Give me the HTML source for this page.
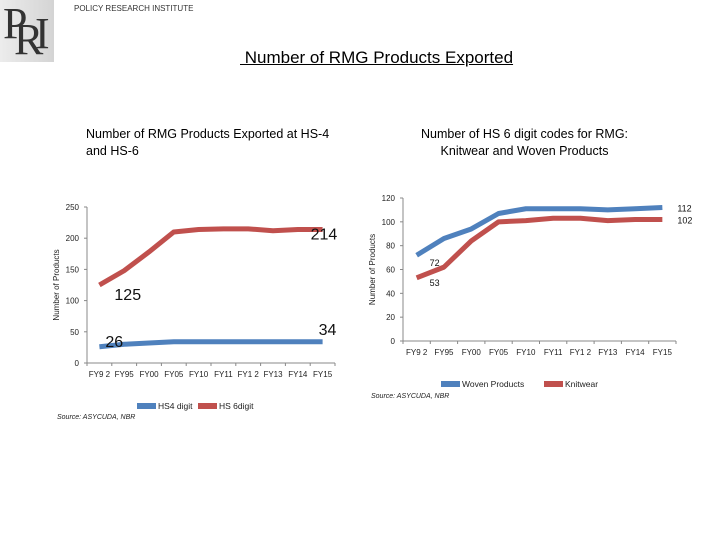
<!DOCTYPE html>
<html><head><meta charset="utf-8"><style>
body{margin:0;width:720px;height:540px;background:#fff;position:relative;overflow:hidden;font-family:"Liberation Sans",sans-serif;}
.a{position:absolute;white-space:nowrap;}
</style></head><body>
<div class="a" style="left:0;top:0;width:54px;height:62px;background:linear-gradient(90deg,#ececec,#d4d4d4);font-family:'Liberation Serif',serif;color:#333;">
<span style="position:absolute;left:3px;top:-2px;font-size:44px;">P</span>
<span style="position:absolute;left:14px;top:14px;font-size:44px;">R</span>
<span style="position:absolute;left:35px;top:8px;font-size:44px;">I</span>
</div>
<div class="a" style="left:74px;top:4px;font-size:8px;color:#333;">POLICY RESEARCH INSTITUTE</div>
<div class="a" style="left:240px;top:48px;font-size:17px;text-decoration:underline;color:#000;">&nbsp;Number of RMG Products Exported</div>
<div class="a" style="left:86px;top:126px;font-size:12.5px;line-height:17px;">Number of RMG Products Exported at HS-4<br>and HS-6</div>
<div class="a" style="left:421px;top:126px;font-size:12.5px;line-height:17px;text-align:center;">Number of HS 6 digit codes for RMG:<br>Knitwear and Woven Products</div>
<svg width="720" height="540" style="position:absolute;left:0;top:0" id="svg" font-family="Liberation Sans, sans-serif"></svg>
<script>
const cats=["FY9 2","FY95","FY00","FY05","FY10","FY11","FY1 2","FY13","FY14","FY15"];
const hs6=[125,148,178,210,214,215,215,212,214,214];
const hs4=[26,30,32,34,34,34,34,34,34,34];
const leftTicks=[0,50,100,150,200,250];
const woven=[72,86,94,107,111,111,111,110,111,112];
const knit=[53,62,84,100,101,103,103,101,102,102];
const rightTicks=[0,20,40,60,80,100,120];
const S=document.getElementById('svg');const NS='http://www.w3.org/2000/svg';
function mk(t,a,txt){const e=document.createElementNS(NS,t);for(const k in a)e.setAttribute(k,a[k]);if(txt!==undefined)e.textContent=txt;S.appendChild(e);return e;}
function chart(c){
 const x=i=>c.x0+(i+0.5)*(c.x1-c.x0)/cats.length, y=v=>c.y0-(v/c.max)*(c.y0-c.yt);
 let e=mk('line',{x1:c.x0,y1:c.yt,x2:c.x0,y2:c.y0,stroke:'#888'});
 e=mk('line',{x1:c.x0,y1:c.y0,x2:c.x1,y2:c.y0,stroke:'#888'});
 c.ticks.forEach(t=>{mk('line',{x1:c.x0-3,x2:c.x0,y1:y(t),y2:y(t),stroke:'#888'});
  e=mk('text',{x:c.x0-8,y:y(t)+3,'font-size':8,'text-anchor':'end',fill:'#222'},t);});
 for(let i=0;i<=cats.length;i++){const xx=c.x0+i*(c.x1-c.x0)/cats.length;mk('line',{x1:xx,x2:xx,y1:c.y0,y2:c.y0+3,stroke:'#888'});}
 cats.forEach((k,i)=>{e=mk('text',{x:x(i),y:c.y0+14,'font-size':8,'text-anchor':'middle',fill:'#222'},k);});
 c.series.forEach(s=>{e=mk('polyline',{points:s.d.map((v,i)=>x(i)+','+y(v)).join(' '),fill:'none',stroke:s.col,'stroke-width':5,'stroke-linejoin':'round'});
  s.lab.forEach(l=>{e=mk('text',{x:x(l.i)+l.dx,y:y(s.d[l.i])+l.dy,'font-size':c.fs,fill:'#111'},s.d[l.i]);});});
 e=mk('text',{transform:`translate(${c.x0-28},${(c.y0+c.yt)/2}) rotate(-90)`,'font-size':8,'text-anchor':'middle',fill:'#222'},'Number of Products');
}
chart({p:'left',x0:87,x1:335,y0:363,yt:207,max:250,ticks:leftTicks,fs:16,series:[
 {n:'hs4-line',col:'#4f81bd',d:hs4,lab:[{i:0,dx:6,dy:0},{i:9,dx:-4,dy:-7}]},
 {n:'hs6-line',col:'#c0504d',d:hs6,lab:[{i:0,dx:15,dy:15},{i:9,dx:-12,dy:10}]}]});
chart({p:'right',x0:403,x1:676,y0:341,yt:198,max:120,ticks:rightTicks,fs:9,series:[
 {n:'woven-line',col:'#4f81bd',d:woven,lab:[{i:0,dx:13,dy:11},{i:9,dx:15,dy:4}]},
 {n:'knit-line',col:'#c0504d',d:knit,lab:[{i:0,dx:13,dy:8},{i:9,dx:15,dy:4}]}]});
function leg(x,y,col,t,n){let e=mk('rect',{x:x,y:y-3,width:19,height:6,fill:col});
 e=mk('text',{x:x+21,y:y+3,'font-size':8.5,fill:'#222'},t);}
leg(137,406,'#4f81bd','HS4 digit','legend-hs4');leg(198,406,'#c0504d','HS 6digit','legend-hs6');
leg(441,384,'#4f81bd','Woven Products','legend-woven');leg(544,384,'#c0504d','Knitwear','legend-knit');
let e=mk('text',{x:57,y:419,'font-size':7,'font-style':'italic',fill:'#222'},'Source: ASYCUDA, NBR');
e=mk('text',{x:371,y:398,'font-size':7,'font-style':'italic',fill:'#222'},'Source: ASYCUDA, NBR');
</script>
</body></html>
